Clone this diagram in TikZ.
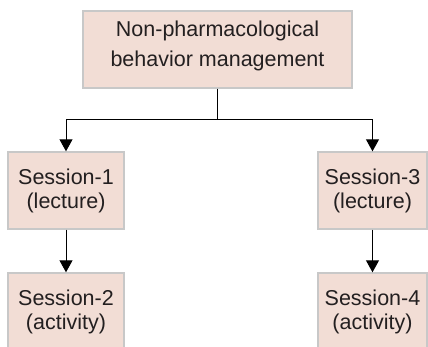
\documentclass[tikz,border=0pt]{standalone}
\usepackage{fontspec}
\setmainfont{Liberation Sans}
\usepackage{tikz}
\usetikzlibrary{arrows.meta}
\definecolor{boxfill}{RGB}{242,221,213}
\definecolor{boxline}{RGB}{200,200,200}
\definecolor{txt}{RGB}{35,31,32}

\begin{document}
\begin{tikzpicture}[x=1pt,y=-1pt,
    sbox/.style={draw=boxline,line width=1.4pt,fill=boxfill,text=txt,align=center,
      minimum height=77pt,inner sep=0pt,font=\fontsize{21.5}{24}\selectfont},
    arr/.style={line width=1pt,-{Triangle[width=13pt,length=12pt]}}]
      \clip (0,0) rectangle (428,346);
      \useasboundingbox (0,0) rectangle (428,346);
      \node[sbox,minimum width=269pt,font=\fontsize{21.5}{30}\selectfont,text depth=11pt] (top) at (217.5,49.5) {Non-pharmacological\\behavior management};
      \node[sbox,minimum width=116pt] (s1) at (66,190.5) {Session-1\\(lecture)};
      \node[sbox,minimum width=116pt] (s2) at (66,311.5) {Session-2\\(activity)};
      \node[sbox,minimum width=109pt] (s3) at (372.5,190.5) {Session-3\\(lecture)};
      \node[sbox,minimum width=109pt] (s4) at (372.5,311.5) {Session-4\\(activity)};
      \coordinate (fork) at (217.5,119);
      \draw[line width=1pt] (top.south) -- (fork);
      \draw[arr] (fork) -| (s1.north);
      \draw[arr] (fork) -| (s3.north);
      \draw[arr] (s1.south) -- (s2.north);
      \draw[arr] (s3.south) -- (s4.north);
\end{tikzpicture}
\end{document}
